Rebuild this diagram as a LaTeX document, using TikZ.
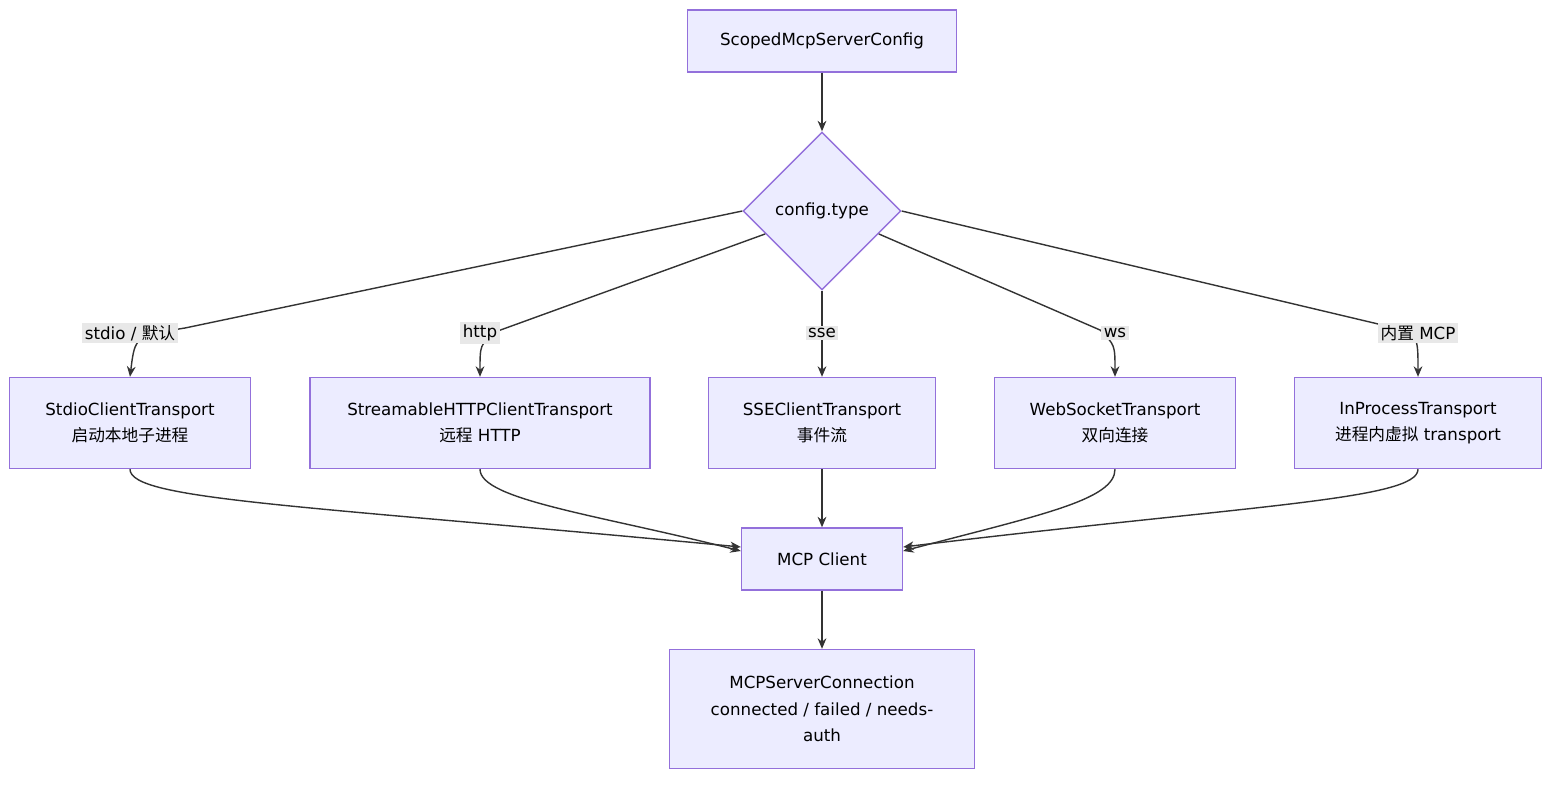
\documentclass[tikz,border=0pt]{standalone}
\usepackage{fontspec}
\setmainfont{DejaVu Sans}
\newfontfamily\cjk{Noto Sans CJK SC}
\usetikzlibrary{shapes.geometric,arrows.meta,calc}
\definecolor{boxfill}{HTML}{ECECFF}
\definecolor{boxline}{HTML}{9370DB}
\definecolor{edge}{HTML}{333333}
\definecolor{labfill}{HTML}{E8E8E8}
\tikzset{
  box/.style={draw=boxline,fill=boxfill,line width=0.8pt,minimum height=#1,align=center,inner sep=2pt},
  box/.default=1.82cm,
  arr/.style={draw=edge,line width=0.8pt,-{Stealth[length=6pt,width=5pt]}},
  lab/.style={fill=labfill,inner sep=1.5pt}
}
\begin{document}
\begin{tikzpicture}[x=0.02cm,y=-0.02cm,font=\fontsize{9.5}{15}\selectfont]
\useasboundingbox (0,0) rectangle (1568,788);
\node[box=1.24cm,minimum width=5.38cm] (cfg) at (822,41) {ScopedMcpServerConfig};
\node[diamond,aspect=1,draw=boxline,fill=boxfill,line width=0.8pt,minimum size=3.16cm,inner sep=0pt] (type) at (822,211) {config.type};
\node[box,minimum width=4.82cm] (stdio) at (130,423) {StdioClientTransport\\{\cjk 启动本地子进程}};
\node[box,minimum width=6.8cm] (http) at (480,423) {StreamableHTTPClientTransport\\{\cjk 远程} HTTP};
\node[box,minimum width=4.54cm] (sse) at (822,423) {SSEClientTransport\\{\cjk 事件流}};
\node[box,minimum width=4.82cm] (ws) at (1115,423) {WebSocketTransport\\{\cjk 双向连接}};
\node[box,minimum width=4.94cm] (inp) at (1418,423) {InProcessTransport\\{\cjk 进程内虚拟} transport};
\node[box=1.24cm,minimum width=3.22cm] (client) at (822,559) {MCP Client};
\node[box=2.38cm,minimum width=6.1cm] (conn) at (822,709) {MCPServerConnection\\connected / failed / needs-\\auth};
% top
\draw[arr] (cfg) -- (type);
% branches
\coordinate (k1) at (185,328);
\coordinate (k2) at (495,332);
\coordinate (k4) at (1100,330);
\coordinate (k5) at (1395,328);
\draw[arr] (type.west) -- (k1) .. controls (135,336) .. (stdio.north);
\draw[arr] (type.202) -- (k2) .. controls (480,345) .. (http.north);
\draw[arr] (type.south) -- (sse.north);
\draw[arr] (type.-22) -- (k4) .. controls (1115,345) .. (ws.north);
\draw[arr] (type.east) -- (k5) .. controls (1418,336) .. (inp.north);
\node[lab] (l1) at (130,333) {stdio / {\cjk 默认}};
\node[lab] (l2) at (480,333) {http};
\node[lab] (l3) at (822,333) {sse};
\node[lab] (l4) at (1115,333) {ws};
\node[lab] (l5) at (1418,333) {{\cjk 内置} MCP};
% merge
\draw[arr] (stdio.south) .. controls (130,500) and (300,505) .. ($(client.west)+(0,-12)$);
\draw[arr] (http.south) .. controls (480,500) and (600,515) .. ($(client.west)+(0,-8)$);
\draw[arr] (sse.south) -- (client.north);
\draw[arr] (ws.south) .. controls (1115,500) and (1040,515) .. ($(client.east)+(0,-8)$);
\draw[arr] (inp.south) .. controls (1418,500) and (1250,505) .. ($(client.east)+(0,-12)$);
\draw[arr] (client) -- (conn);
\end{tikzpicture}
\end{document}
